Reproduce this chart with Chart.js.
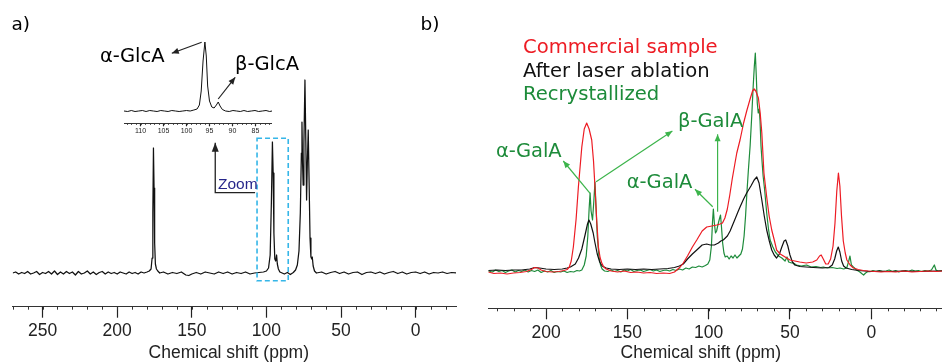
<!DOCTYPE html>
<html>
<head>
<meta charset="utf-8">
<script src="https://cdn.jsdelivr.net/npm/chart.js@4.4.1/dist/chart.umd.min.js"></script>
<style>
  html, body { margin: 0; padding: 0; background: #fff; }
  #wrap { position: relative; width: 942px; height: 362px; overflow: hidden; }
  canvas { position: absolute; }
  .lbl { position: absolute; white-space: nowrap; font-family: "DejaVu Sans", sans-serif; font-size: 19.5px; line-height: 24px; }
  .axt { position: absolute; white-space: nowrap; font-family: "Liberation Sans", Arial, sans-serif; font-size: 17.5px; line-height: 20px; color: #222; transform: translateX(-50%); }
</style>
</head>
<body>
<div id="wrap">
  <canvas id="panelA" width="471" height="362" style="left:0;top:0"></canvas>
  <canvas id="inset" width="148" height="110" style="left:124px;top:30px"></canvas>
  <canvas id="panelB" width="471" height="362" style="left:471px;top:0"></canvas>

  <div class="lbl" style="left:11.5px;top:13px;font-size:18.5px;line-height:22px">a)</div>
  <div class="lbl" style="left:420.5px;top:13px;font-size:18.5px;line-height:22px">b)</div>
  <div class="lbl" style="left:100px;top:44px">α-GlcA</div>
  <div class="lbl" style="left:235px;top:52.3px">β-GlcA</div>
  <div class="lbl" style="left:218px;top:175px;font-family:'Liberation Sans',Arial,sans-serif;font-size:15.5px;line-height:18px;color:#25258a">Zoom</div>

  <div class="lbl" style="left:523px;top:34.5px;font-size:19.6px;color:#ed1c24">Commercial sample</div>
  <div class="lbl" style="left:523px;top:58.5px;font-size:19.6px;color:#111">After laser ablation</div>
  <div class="lbl" style="left:523px;top:82.2px;font-size:19.6px;color:#1d8b3a">Recrystallized</div>
  <div class="lbl" style="left:678px;top:109px;color:#1d8b3a">β-GalA</div>
  <div class="lbl" style="left:496px;top:138.6px;color:#1d8b3a">α-GalA</div>
  <div class="lbl" style="left:626.7px;top:169.6px;color:#1d8b3a">α-GalA</div>

  <div class="axt" style="left:228.8px;top:342.4px">Chemical shift (ppm)</div>
  <div class="axt" style="left:700.8px;top:342.4px">Chemical shift (ppm)</div>
</div>

<script>
// ---- data: [chemical shift (ppm), intensity (a.u.)] ----

// a) full spectrum
const glcaSpectrum = [
  [270,0],[268,1],[266,-1],[264,0.5],[262,-0.5],[260,1.5],[258,-1],[256,0],[254,1.5],[252,-1.5],
  [250,0.5],[248,-0.5],[246,1.5],[244,-1],[242,2],[240,-1.5],[238,1],[236,-1],[234,1.5],[232,-0.5],
  [230,1],[228,-2],[226,1.5],[224,-1],[222,0],[220,2],[218,-1],[216,1],[214,-1.5],[212,0.5],
  [210,1.5],[208,-1],[206,1],[204,-0.5],[202,0.5],[200,-1],[198,1],[196,0],[194,-1],[192,1],
  [190,-0.5],[188,0.5],[186,-1],[184,1],[182,0],[180,1],[178.5,2],[177.3,4],[176.6,15],[176.1,60],
  [175.7,125],[175.3,85],[174.9,30],[174.4,9],[173.7,4],[172.8,2],[171.5,0],[169,1],[166,-1],[163,0.5],
  [160,-0.5],[157,1],[154,-2],[152,-2.5],[150,-1],[147,0.5],[144,-1],[141,1],[138,0],[135,-1],
  [132,1],[129,-0.5],[126,1],[123,-1],[120,0.5],[117,-0.5],[114,1],[111,-1],[108,0],[105,0.5],
  [102,1],[100,2],[98.6,5],[97.5,18],[96.7,70],[96.0,131],[95.5,100],[95.0,40],[94.4,14],[93.8,12],
  [93.2,18],[92.7,9],[92,4],[91,1],[89.5,0],[88,-1],[86,0.5],[84,-1.5],[82,0.5],[80.5,3],
  [79.3,8],[78.2,22],[77.3,60],[76.6,120],[76.2,151],[75.8,110],[75.4,88],[74.9,130],[74.2,193],[73.6,130],
  [73.1,73],[72.6,110],[72.0,143],[71.4,90],[70.8,35],[70.2,16],[69.6,14],[69.3,16],[68.7,7],[67.8,2],
  [66.5,0],[63,1],[60,-1],[57,0.5],[54,1.5],[51,-0.5],[48,1],[45,-1],[42,0.5],[39,1],
  [36,-1.5],[33,0.5],[30,1],[27,-0.5],[24,1],[21,-1],[18,0.5],[15,1.5],[12,-0.5],[9,1],
  [6,-1],[3,0.5],[0,1],[-3,-0.5],[-6,1],[-9,-1],[-12,0.5],[-15,0],[-18,1],[-21,-0.5],
  [-24,0.5],[-27,0]
];

// a) inset, 113-81 ppm
const glcaZoom = [
  [113.6,0],[112.8,-0.5],[112,0.5],[111.2,-0.5],[110.4,0],[109.6,0.5],[108.8,-0.5],[108,0.5],[107.2,0],[106.4,-0.5],
  [105.6,0.5],[104.8,0],[104,-0.5],[103.2,0.5],[102.4,0],[101.6,-0.5],[100.8,0],[100,0.5],[99.2,0],[98.4,1],
  [97.7,2],[97.2,6],[96.8,20],[96.4,50],[96.0,69],[95.7,55],[95.4,25],[95.0,10],[94.5,4],[94,3],
  [93.5,6],[93.1,9],[92.7,5],[92.2,1.5],[91.5,0],[90.7,-0.5],[89.9,0.5],[89.1,0],[88.3,-0.5],[87.5,0.5],
  [86.7,-0.5],[85.9,0],[85.1,0.5],[84.3,-0.5],[83.5,0],[82.7,0.5],[81.9,-0.5],[81.4,0]
];

// b) three samples
const commercial = [
  [235.5,-1],[232,-2.5],[228,-2],[224,-3],[220,-2],[216,-1.5],[212,-0.5],[209,1.5],[207,3.5],[205,3],
  [203,1],[200,-0.5],[196,-1],[192,-0.5],[189,0.5],[187,1.5],[185.7,4],[184.5,10],[183.2,24],[181.5,52],
  [180.1,84],[178,124],[176.5,142],[175,148],[173.5,142],[171.9,131],[170.8,110],[169.9,84],[168.8,50],[167.8,24],
  [166.7,13],[165.7,8],[164.5,4],[163,2],[160,0],[156,-1],[152,0],[148,-1.5],[144,-1],[140,-2],
  [136,-1.5],[132,-2.5],[128,-2],[124,-2.5],[121,-1],[119.6,1],[117.5,4],[115.6,8],[113,15],[110,24],
  [107.3,31],[104,40],[101.2,44],[98,45],[95,46],[93,47],[91.5,48],[90,53],[88.5,62],[87,76],
  [85.5,92],[84,106],[82.7,118],[80.7,131],[78.5,148],[76.6,160],[74.5,172],[73,180],[72,182],[71,180],
  [69.4,173],[68.3,158],[67.3,138],[66,98],[64.3,74],[62.8,55],[61.2,41],[59.5,30],[58.2,21],[56,17],
  [53,14],[50,11],[47,10],[44,9],[40,8],[36,9],[33.5,11],[31.8,15],[30.8,16],[29.5,12],
  [28,7],[26.5,7],[25,12],[23.5,25],[22.3,48],[21.2,80],[20.2,98],[19.3,85],[18.3,55],[17.2,30],
  [16,18],[15,11],[13,6],[11,3],[8,1.5],[5,0.5],[2,0],[-2,-0.5],[-6,-1],[-10,-0.5],
  [-15,-1],[-20,0],[-25,-1],[-30,-0.5],[-35,0],[-40,-0.5],[-43.5,0]
];

const laserAblation = [
  [235.5,0.5],[230,1],[225,0.5],[220,1],[215,1],[210,2],[207,3.5],[204,3],[200,2],[195,1.5],
  [190,2],[187,3],[185,4],[182,7],[180,13],[178,22],[176,36],[174.5,47],[173.6,51],[172.5,47],
  [171,38],[170,29],[168.5,17],[167,9],[165.5,5],[163,3],[160,2],[155,1.5],[150,2],[145,1.5],
  [140,2],[135,1.5],[130,2],[125,2.5],[121,3.5],[118,5],[115.6,7],[113,12],[110,17],[107.3,21],
  [104,26],[101.2,27],[99,26],[96.5,26],[94,28],[92.5,30],[91,31],[88.5,35],[86.8,40],[84,51],
  [82,59],[80.7,64],[78.5,72],[76.6,78],[74,85],[72,91],[70.4,94],[69,88],[67.3,71],[65.8,55],
  [64.3,41],[62.7,30],[61.2,21],[59.7,16],[58.2,13],[56.5,17],[55,24],[53.6,30],[52.6,31],[51.3,25],
  [50,16],[48.5,9],[47,6],[44,4.5],[40,4],[35.7,3.5],[30,3],[26,3.5],[24,6],[22.5,12],
  [21.3,20],[20.3,24],[19.3,19],[18.2,10],[17,5],[15.5,3],[12,1.5],[8,0.5],[4,0],[0,-0.5],
  [-5,0],[-10,-0.5],[-20,0],[-30,-0.5],[-40,0],[-43.5,0]
];

const recrystallized = [
  [235.5,0],[233,-1],[231,1],[229,-0.5],[227,0.5],[225,-1.5],[223,0],[221,1],[219,-1],[217,0.5],
  [215,-0.5],[213,1],[211,-1],[209,0.5],[207,-0.5],[205,1],[203,-1.5],[201,0],[199,-1],[197,0.5],
  [195,-1.5],[193,-0.5],[191,-1],[189,0],[187,-1.5],[185,-0.5],[183,-1],[181,0.5],[179.5,0],[178,1],
  [176.5,6],[175.3,15],[174.3,35],[173.5,62],[172.9,78],[172.3,60],[171.4,51],[170.6,70],[169.9,89],[169.3,65],
  [168.5,35],[167.5,15],[166.5,6],[165.5,2],[164,0],[162,-0.5],[160,1],[158,-0.5],[156,0.5],[154,-1],
  [152,1],[150,0],[148,1.5],[146,-0.5],[144,0.5],[142,1],[140,-0.5],[138,0.5],[136,1.5],[134,0],
  [132,1],[130,-0.5],[128,0.5],[126,1],[124,0],[122,1.5],[120,0.5],[118,2],[116,1],[114,3],
  [112,2],[110,4],[108,3.5],[106,5],[104,4],[102,5.5],[100.5,7],[99.3,11],[98.3,25],[97.6,50],
  [97.1,62],[96.5,48],[95.8,38],[95.1,40],[94.3,46],[93.4,52],[92.7,56],[92.1,44],[91.4,28],[90.6,18],
  [89.8,14],[88.6,15],[87.4,12],[86.2,15],[85,13],[83.8,16],[82.6,13],[81.4,15],[80.2,17],[79.2,22],
  [78.2,35],[77.3,55],[76.4,80],[75.6,100],[74.5,125],[73.5,155],[72.6,185],[71.9,205],[71.3,218],[70.7,195],
  [70.1,168],[69.5,158],[68.9,162],[68.4,150],[67.8,125],[67.1,108],[66.5,95],[65.5,80],[64.3,58],[63.2,42],
  [62.2,31],[60.5,24],[59,19],[57,15],[55,13],[53,10],[51.8,14],[50.8,9],[49,8],[47.9,8],
  [46,6],[43,5],[39.8,6],[37,4],[34,4.5],[31,3.5],[29.5,4],[27,3],[24,3.5],[21,2.5],
  [19.2,3],[17,2],[15.1,3],[14,9],[13.1,15],[12.2,6],[11,4],[9,1],[7,-1],[5.5,-3],
  [4.7,-4],[3.5,-2],[2,-0.5],[0.8,-0.7],[-1,0.5],[-3,-0.5],[-5,0.5],[-7,-0.5],[-9,0],[-11,1],
  [-13,-0.5],[-15,0.5],[-17,-1],[-19,0],[-21,0.5],[-23,-0.5],[-25,1],[-27,0],[-29,0.5],[-31,-0.5],
  [-33,0.5],[-35,0],[-37,1],[-38.8,6],[-39.8,1],[-41,0],[-43.5,0.5]
];

// tick spacing (ppm)
const majorStep = 50;
const minorStep = 10;
const insetMajor = 5;
const insetMinor = 1;

const RED = '#ed1c24', BLACK = '#111', GREEN = '#1d8b3a', ARROW_GREEN = '#3cb44b';

const toXY = arr => arr.map(([x, y]) => ({ x, y }));
const line = (data, color, w) => ({ data: toXY(data), borderColor: color, borderWidth: w || 1.2, pointRadius: 0, fill: false });

// small ticks between the labelled ones
function minorTicks(step, len) {
  return {
    id: 'minorTicks',
    afterDraw(chart) {
      const s = chart.scales.x, ctx = chart.ctx;
      ctx.save();
      ctx.strokeStyle = '#333';
      ctx.lineWidth = 1;
      const first = Math.ceil(s.min / step);
      for (let k = first; k * step <= s.max; k++) {
        const px = Math.round(s.getPixelForValue(k * step)) + 0.5;
        ctx.beginPath();
        ctx.moveTo(px, s.top);
        ctx.lineTo(px, s.top + len);
        ctx.stroke();
      }
      ctx.restore();
    }
  };
}

// arrows / boxes placed in data coordinates
function marks(list) {
  return {
    id: 'marks',
    afterDatasetsDraw(chart) {
      const { ctx, scales: { x, y } } = chart;
      list.forEach(m => {
        const pts = m.pts.map(([a, b]) => [x.getPixelForValue(a), y.getPixelForValue(b)]);
        ctx.save();
        ctx.strokeStyle = m.color;
        ctx.fillStyle = m.color;
        ctx.lineWidth = m.width || 1;
        ctx.setLineDash(m.dash || []);
        ctx.beginPath();
        pts.forEach(([px, py], i) => i ? ctx.lineTo(px, py) : ctx.moveTo(px, py));
        if (m.closed) ctx.closePath();
        ctx.stroke();
        if (m.head) {
          const [x1, y1] = pts[pts.length - 2], [x2, y2] = pts[pts.length - 1];
          const ang = Math.atan2(y2 - y1, x2 - x1), L = m.head[0], W = m.head[1];
          ctx.setLineDash([]);
          ctx.beginPath();
          ctx.moveTo(x2, y2);
          ctx.lineTo(x2 - L * Math.cos(ang) + W * Math.sin(ang), y2 - L * Math.sin(ang) - W * Math.cos(ang));
          ctx.lineTo(x2 - L * Math.cos(ang) - W * Math.sin(ang), y2 - L * Math.sin(ang) + W * Math.cos(ang));
          ctx.closePath();
          ctx.fill();
        }
        ctx.restore();
      });
    }
  };
}

function spectrumChart(id, datasets, o) {
  return new Chart(document.getElementById(id), {
    type: 'line',
    data: { datasets },
    options: {
      responsive: false,
      animation: false,
      events: [],
      layout: { padding: o.padding },
      plugins: { legend: { display: false }, tooltip: { enabled: false } },
      elements: { line: { tension: 0, borderJoinStyle: 'round' } },
      scales: {
        x: {
          type: 'linear', reverse: true, min: o.xMin, max: o.xMax,
          ticks: {
            stepSize: o.step, includeBounds: false, autoSkip: false, maxRotation: 0,
            padding: o.tickPad, color: '#222',
            font: { family: 'Liberation Sans, Arial, sans-serif', size: o.fontSize }
          },
          grid: { drawOnChartArea: false, tickLength: o.tickLen, tickColor: '#222', tickWidth: 1.2 },
          border: { color: '#333', width: 1 },
          afterFit: s => { s.height = o.axisH; }
        },
        y: { display: false, min: o.yMin, max: o.yMax }
      }
    },
    plugins: [minorTicks(o.minor, o.minorLen), marks(o.marks || [])]
  });
}

// a) main panel
spectrumChart('panelA', [line(glcaSpectrum, BLACK, 1.25)], {
  padding: { left: 12.7, right: 15, top: 0, bottom: 0 },
  xMin: -27, xMax: 270, yMin: -33.7, yMax: 273,
  step: majorStep, minor: minorStep, minorLen: 3, tickLen: 11, tickPad: 3, fontSize: 17.5, axisH: 55.3,
  marks: [
    { pts: [[106.3, 134.7], [85.4, 134.7], [85.4, -7.7], [106.3, -7.7]], closed: true, color: '#35b6e8', width: 1.6, dash: [5, 3] },
    { pts: [[107.6, 80.3], [134.3, 80.3], [134.3, 130.3]], color: '#222', width: 1.3, head: [9, 3.5] }
  ]
});

// a) inset
spectrumChart('inset', [line(glcaZoom, BLACK, 1)], {
  padding: { left: 0, right: 0, top: 0, bottom: 0 },
  xMin: 81.4, xMax: 113.6, yMin: -12.3, yMax: 81,
  step: insetMajor, minor: insetMinor, minorLen: 1.5, tickLen: 3, tickPad: 1, fontSize: 7, axisH: 16.7,
  marks: [
    { pts: [[96.7, 68.7], [103.2, 57.7]], color: '#222', width: 1.2, head: [7, 3] },
    { pts: [[93.1, 12], [89.4, 33.7]], color: '#222', width: 1.2, head: [7, 3] }
  ]
});

// b) three samples
spectrumChart('panelB', [line(commercial, RED), line(laserAblation, BLACK), line(recrystallized, GREEN)], {
  padding: { left: 17.3, right: 0, top: 0, bottom: 0 },
  xMin: -43.5, xMax: 235.5, yMin: -37.3, yMax: 271,
  step: majorStep, minor: minorStep, minorLen: 3, tickLen: 11, tickPad: 3, fontSize: 17.5, axisH: 53.7,
  marks: [
    { pts: [[172.9, 77.7], [189.4, 110]], color: ARROW_GREEN, width: 1.2, head: [7, 3] },
    { pts: [[169.2, 89.3], [122.3, 140]], color: ARROW_GREEN, width: 1.2, head: [7, 3] },
    { pts: [[97.5, 64.3], [108.4, 81.7]], color: ARROW_GREEN, width: 1.2, head: [7, 3] },
    { pts: [[94.5, 59.3], [94.5, 136.7]], color: ARROW_GREEN, width: 1.2, head: [7, 3] }
  ]
});
</script>
</body>
</html>
